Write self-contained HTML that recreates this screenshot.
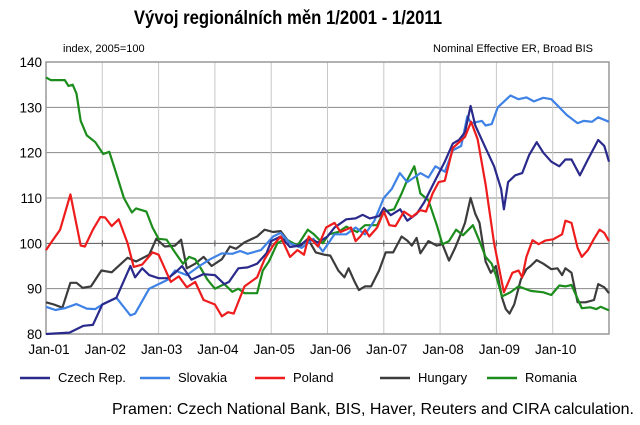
<!DOCTYPE html>
<html><head><meta charset="utf-8"><style>
body{margin:0;background:#fff;width:640px;height:420px;overflow:hidden;font-family:"Liberation Sans",Arial,sans-serif}
svg text{font-family:"Liberation Sans",Arial,sans-serif}
</style></head><body>
<svg id="c" width="640" height="420">
<text x="288" y="24" text-anchor="middle" font-size="19" font-weight="bold" transform="translate(288,0) scale(0.88,1) translate(-288,0)">Vývoj regionálních měn  1/2001 - 1/2011</text>
<text x="63" y="52" font-size="11">index, 2005=100</text>
<text x="593" y="52" font-size="11" text-anchor="end">Nominal Effective ER, Broad BIS</text>
<g id="grid"></g><g id="series"></g><g id="legend"></g>
<text x="634" y="414" font-size="16" text-anchor="end">Pramen: Czech National Bank, BIS, Haver, Reuters and CIRA calculation.</text>
</svg>
<script>
const yTicks=[80,90,100,110,120,130,140];
const xTickLabels=["Jan-01","Jan-02","Jan-03","Jan-04","Jan-05","Jan-06","Jan-07","Jan-08","Jan-09","Jan-10"];
const seriesNames=["Czech Rep.","Slovakia","Poland","Hungary","Romania"];
const czM=[0,5,8,10,12,15,18,19,20.5,22,24,26,27.5,29,31,33.5,36,38,39,41,43,45,47,48,50,52,54,56,58,60,61.5,64,66,67.5,69,71,72,73.5,75.5,77,79,80.6,83,85,86.7,88,89.3,90.5,91.5,93.7,95.5,97,97.6,98.5,100,101.5,103,104.6,106,107.7,109.4,110.7,112,113.8,115.5,117.7,119,120];
const czV=[80,80.3,81.8,82,86.5,88,95,92.5,94.5,93,92.3,92.3,93.5,95,92,93.2,93,91,91.5,94.5,94.7,95.5,97.8,100.5,101.5,99.2,99.5,101,100.2,101.5,103.5,105.3,105.5,106.3,105.5,106,107.8,106.2,107.5,105,106.5,109,114,118,122,122.8,124.5,130.3,126,121,117,112,107.5,113.5,115,115.5,119.5,122.3,120,118,117,118.5,118.5,115,118.5,122.8,121.5,118];
const skM=[0,2,4,6.5,8.7,10.5,12,15,18,19,22,24,26,27.5,30,32.7,35,37.5,39.7,41.4,43,45.8,48.4,50,52,54.5,57,59,61.5,64,66,68,70,72,73.7,75.4,77,79.8,81.5,83,85,86.7,88.5,89.8,90.6,92.9,93.7,95,96.3,99,100.7,102.4,104,106,107.7,109.4,111,113.3,114.6,116.4,117.7,120];
const skV=[86,85.3,85.7,86.6,85.6,85.5,86.5,88,84.1,84.5,90,91,92,94,93,95,96.5,97.8,97.7,98.3,97.7,98.5,101.5,102.3,100,99,101,98.2,102,102,103.5,102,105,110,112,115.5,113.5,115.5,114.5,117,115.8,120.5,121.5,128,126.5,127,126,126.3,130,132.6,131.8,132.2,131.3,132.1,131.8,130,128.3,126.5,127,126.8,127.8,126.8];
const plM=[0,1.3,3,5.2,7.4,8.3,10,11.6,12.6,14,15.5,17.4,18.7,20.5,22.7,24,26.6,28.3,30,31.8,33.6,36,37.5,38.8,40,42.3,45,46.6,48.4,50,52,53.6,55,56,58,59.7,61.5,62.8,65,66,67,68,68.9,70.6,72,73.2,74.5,76.3,78,79.8,81,82.4,83.7,85,86.7,89.3,90.6,92,93.7,95.5,97.6,99.4,100.7,101.5,102.4,103.7,105,106.4,108.1,110,110.7,112,113.3,114.2,115.5,116.8,118,119,120];
const plV=[98.5,100.5,103,110.8,99.5,99.3,103,105.8,105.7,103.8,105.3,100,94.8,95.3,98,97.5,91.5,92.7,90.3,91.5,87.5,86.5,83.9,84.8,84.5,90.5,92.5,96.5,99.5,101.5,97,98.5,97.5,101.5,99.3,103.5,104.5,102.5,103.5,100.5,101.5,103,101.5,103.5,107,104,103.8,107,105.8,107.3,107,111,113.5,113.8,121,123.5,126.8,123,113,100,89.2,93.5,94,92.5,97,100.7,99.8,100.6,100.9,102,105,104.5,99,97,98.5,101,103,102.3,100.5];
const huM=[0,1.7,3.5,5.2,6.5,7.8,9.6,11.8,14,16,17.4,19.2,22,23.5,25.3,27.5,28.8,30,31.8,33.6,35.3,37.5,39.2,40.5,42.3,45,46.6,48.4,50,52,54,55.8,57.5,59.3,60.6,62.3,63.6,64.5,65.8,66.7,68,69.3,71,72.4,74,75.8,77,78,79,79.8,81.5,83.3,84.5,85.9,87.2,88.5,89.3,90.5,91.5,92.4,93.7,94.8,95.9,97.2,98,98.8,99.8,101.2,102.4,103.3,104.6,106,107.7,109,110,110.7,112,113.3,115,116.8,117.7,119,120];
const huV=[87,86.5,85.8,91.3,91.3,90.2,90.5,94,93.6,95.5,96.8,96,97.5,101,99.3,99.5,100.8,94.5,95.5,97,95,96.5,99.3,98.8,100.2,101.5,103,102.5,102.7,100,99.2,101,98,97.5,97.3,94,92.5,94.5,91.5,89.7,90.5,90.5,94,98,98,101.5,100.6,99.5,101.2,97.8,100.5,99.5,99.8,96.2,99,102.3,104.5,110,106.5,104.5,96,93.5,95,88,85.5,84.5,86.5,92,94.3,95,96.3,95.5,94.3,94.5,93,94.5,93.5,87,87,87.5,91,90.3,89];
const roM=[0,1,4,4.8,5.7,6.5,7.4,8.7,10.5,12.2,13.5,15,16.6,18.3,19.2,21.4,22.7,24,25.7,27.5,29.2,30.5,31.8,33,34.4,36,38,39.7,41,42.3,45,46.2,47.5,49.3,51,53.6,55.8,57.1,59,60.3,62.3,64,66.3,68,70.6,72,74.2,75.8,77,78.5,79.8,81.5,83.3,84.5,85.9,87.4,88.9,91,92.4,93.7,95,95.9,97.2,99,100.7,103.3,106,107.7,109.4,110.7,112,114.2,116,117.3,118.2,120];
const roV=[136.6,136,136,134.7,135,133,127,123.8,122.3,119.7,120.2,115.3,110,106.8,107.7,107,103.5,101,100.8,98,95.5,97,96.5,94.5,92,90,91,89.3,90,89,89,94,96,100,101,99.5,103,102,100,102,102.5,103.7,102.5,104,104,107,107.5,111,114,117,111,109.5,104,99.8,100.5,103,101.8,104,100.5,97,95.5,93,88.3,89.2,90.5,89.5,89.2,88.6,90.7,90.5,90.8,85.7,85.9,85.5,86,85.2];
const seriesM=[czM,skM,plM,huM,roM];
const seriesV=[czV,skV,plV,huV,roV];
const colors=["#2a2a8c","#3f82e6","#ee1c1c","#3c3c3c","#1c8c1c"];
const ns="http://www.w3.org/2000/svg";
const L=46,R=609,T=62,B=334;
const xS=m=>L+m*(R-L)/120;
const yS=v=>B-(v-80)*(B-T)/60;
function mk(tag,attrs,parent){const e=document.createElementNS(ns,tag);for(const k in attrs)e.setAttribute(k,attrs[k]);parent.appendChild(e);return e;}
const g=document.getElementById("grid");
yTicks.forEach(v=>{
 if(v>80&&v<140){const ln=mk("line",{x1:L,x2:R,y1:yS(v),y2:yS(v),stroke:v===100?"#555":"#8a8a8a","stroke-width":1},g);
 
 }
 const t=mk("text",{x:L-4,y:yS(v)+5,"font-size":13.5,"text-anchor":"end"},g);t.textContent=v;
 
 
});
xTickLabels.forEach((lab,i)=>{
 const x=xS(i*12);
 if(i>0){const ln=mk("line",{x1:x,x2:x,y1:T,y2:B,stroke:"#c8c8c8","stroke-width":1},g);
 
 }
 const tk=mk("line",{x1:x,x2:x,y1:yS(100)-3,y2:yS(100)+3,stroke:"#555"},g);
 
 
 const t=mk("text",{x:x+3,y:B+20,"font-size":13.5,"text-anchor":"middle"},g);t.textContent=lab;
 
 
});
const fr=mk("rect",{x:L,y:T,width:R-L,height:B-T,fill:"none",stroke:"#999","stroke-width":1.5},g);


const sg=document.getElementById("series");
const order=[3,4,1,0,2];
order.forEach(i=>{
 const pts=seriesM[i].map((m,j)=>xS(m).toFixed(1)+","+yS(seriesV[i][j]).toFixed(1)).join(" ");
 const p=mk("polyline",{points:pts,fill:"none",stroke:colors[i],"stroke-width":2.2,"stroke-linejoin":"round"},sg);
 
 
});
const lg=document.getElementById("legend");
const lx=[20,140,255,380,487];
seriesNames.forEach((n,i)=>{
 const ln=mk("line",{x1:lx[i],x2:lx[i]+30,y1:378,y2:378,stroke:colors[i],"stroke-width":2.5},lg);
 
 
 const t=mk("text",{x:lx[i]+38,y:382,"font-size":13},lg);t.textContent=n;
 
 
});
</script>
</body></html>
